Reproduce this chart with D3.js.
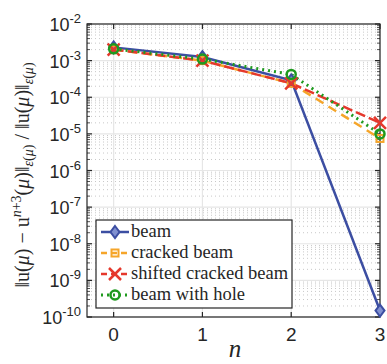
<!DOCTYPE html>
<html><head><meta charset="utf-8">
<script src="https://cdn.jsdelivr.net/npm/d3@7"></script>
<style>body{margin:0;background:#fff}</style>
</head><body>
<svg id="c" width="387" height="364"></svg>
<script>
const nValues = [0, 1, 2, 3];
const beam = [2.3e-3, 1.25e-3, 2.9e-4, 1.5e-10];
const crackedBeam = [2.0e-3, 1.0e-3, 2.4e-4, 7.5e-6];
const shiftedCrackedBeam = [2.0e-3, 1.0e-3, 2.4e-4, 2.0e-5];
const beamWithHole = [2.1e-3, 1.1e-3, 4.2e-4, 1.0e-5];
const seriesNames = ["beam", "cracked beam", "shifted cracked beam", "beam with hole"];
const yTickExps = [-2, -3, -4, -5, -6, -7, -8, -9, -10];
const xTicks = [0, 1, 2, 3];

const series = [
  {name: seriesNames[0], vals: beam, color: "#3c4ea2", dash: null, marker: "diamond"},
  {name: seriesNames[1], vals: crackedBeam, color: "#f5a52a", dash: "9,6", marker: "square"},
  {name: seriesNames[2], vals: shiftedCrackedBeam, color: "#e5382c", dash: "10,4", marker: "x"},
  {name: seriesNames[3], vals: beamWithHole, color: "#1f9a1f", dash: "2,4", marker: "circle"}
];

const svg = d3.select("#c");
const L = 87, R = 380, T = 24, B = 317;
const x = d3.scaleLinear().domain([-0.3, 3]).range([L, R]);
const y = d3.scaleLog().domain([1e-10, 1e-2]).range([B, T]);

// grid
const g = svg.append("g");
const minor = [];
for (let e = -10; e < -2; e++) for (let k = 2; k <= 9; k++) minor.push(k * Math.pow(10, e));
g.selectAll(".mg").data(minor).enter().append("line")
  .attr("x1", L).attr("x2", R).attr("y1", d => y(d)).attr("y2", d => y(d))
  .attr("stroke", "#c8c8c8").attr("stroke-width", 1).attr("stroke-dasharray", "1,3");
g.selectAll(".Mg").data(yTickExps).enter().append("line")
  .attr("x1", L).attr("x2", R).attr("y1", d => y(Math.pow(10, d))).attr("y2", d => y(Math.pow(10, d)))
  .attr("stroke", "#e6e6e6").attr("stroke-width", 1.2);
g.selectAll(".Xg").data(xTicks).enter().append("line")
  .attr("y1", T).attr("y2", B).attr("x1", d => x(d)).attr("x2", d => x(d))
  .attr("stroke", "#e6e6e6").attr("stroke-width", 1.2);

// axes box
const ax = svg.append("g").attr("stroke", "#262626").attr("stroke-width", 1.2);
ax.append("rect").attr("x", L).attr("y", T).attr("width", R - L).attr("height", B - T).attr("fill", "none");
yTickExps.forEach(e => {
  const yy = y(Math.pow(10, e));
  ax.append("line").attr("x1", L).attr("x2", L + 5).attr("y1", yy).attr("y2", yy);
  ax.append("line").attr("x1", R).attr("x2", R - 5).attr("y1", yy).attr("y2", yy);
});
minor.forEach(v => {
  const yy = y(v);
  ax.append("line").attr("x1", L).attr("x2", L + 3).attr("y1", yy).attr("y2", yy).attr("stroke-width", 0.8);
  ax.append("line").attr("x1", R).attr("x2", R - 3).attr("y1", yy).attr("y2", yy).attr("stroke-width", 0.8);
});
xTicks.forEach(t => {
  const xx = x(t);
  ax.append("line").attr("x1", xx).attr("x2", xx).attr("y1", B).attr("y2", B - 5);
  ax.append("line").attr("x1", xx).attr("x2", xx).attr("y1", T).attr("y2", T + 5);
});

// tick labels
const sans = '"Liberation Sans"';
yTickExps.forEach(e => {
  const t = svg.append("text").attr("x", 81).attr("y", y(Math.pow(10, e)) + 7)
    .attr("text-anchor", "end").style("font-family", sans).attr("font-size", 18).attr("fill", "#262626");
  t.append("tspan").text("10");
  t.append("tspan").attr("dy", -8).attr("font-size", 13).text("-" + (-e));
});
xTicks.forEach(v => {
  svg.append("text").attr("x", x(v)).attr("y", 341).attr("text-anchor", "middle")
    .style("font-family", sans).attr("font-size", 19).attr("fill", "#262626").text(v);
});

// axis labels
const serif = '"Liberation Serif"';
svg.append("text").attr("x", 235).attr("y", 357).attr("text-anchor", "middle")
  .style("font-family", serif).style("font-style", "italic").style("font-size", "25px").attr("fill", "#262626").text("n");
const yl = svg.append("text").attr("transform", "translate(29,175) rotate(-90)")
  .attr("text-anchor", "middle").style("font-family", serif).style("font-size", "20px").attr("fill", "#262626");
function ts(txt, opt) {
  const t = yl.append("tspan").text(txt).style("font-family", serif);
  if (opt && opt.it) t.style("font-style", "italic");
  if (opt && opt.small) t.style("font-size", "14px");
  if (opt && opt.dy) t.attr("dy", opt.dy);
  return t;
}
ts("‖u("); ts("μ", {it: 1}); ts(") − u");
ts("n", {it: 1, small: 1, dy: -8}); ts("+3", {small: 1});
ts("(", {dy: 8}); ts("μ", {it: 1}); ts(")‖");
ts("ε", {it: 1, small: 1, dy: 4}); ts("(", {small: 1}); ts("μ", {it: 1, small: 1}); ts(")", {small: 1});
ts(" / ‖u(", {dy: -4}); ts("μ", {it: 1}); ts(")‖");
ts("ε", {it: 1, small: 1, dy: 4}); ts("(", {small: 1}); ts("μ", {it: 1, small: 1}); ts(")", {small: 1});

// markers
function drawMarker(sel, type, cx, cy, color) {
  if (type === "diamond") {
    sel.append("path").attr("d", `M${cx},${cy-6}L${cx+4.5},${cy}L${cx},${cy+6}L${cx-4.5},${cy}Z`)
      .attr("fill", "#8090d0").attr("stroke", color).attr("stroke-width", 2);
  } else if (type === "square") {
    sel.append("rect").attr("x", cx - 3.5).attr("y", cy - 3.5).attr("width", 7).attr("height", 7)
      .attr("fill", "none").attr("stroke", color).attr("stroke-width", 2);
  } else if (type === "x") {
    sel.append("path").attr("d", `M${cx-6},${cy-6}L${cx+6},${cy+6}M${cx-6},${cy+6}L${cx+6},${cy-6}`)
      .attr("stroke", color).attr("stroke-width", 2.5).attr("fill", "none");
  } else {
    sel.append("circle").attr("cx", cx).attr("cy", cy).attr("r", 4.5)
      .attr("fill", "none").attr("stroke", color).attr("stroke-width", 2.5);
  }
}

const line = d3.line().x((d, i) => x(nValues[i])).y(d => y(d));
const plot = svg.append("g");
series.forEach(s => {
  plot.append("path").attr("d", line(s.vals)).attr("fill", "none").attr("stroke", s.color)
    .attr("stroke-width", s.marker === "circle" ? 3 : 2.5).attr("stroke-dasharray", s.dash);
});
series.forEach(s => {
  s.vals.forEach((v, i) => drawMarker(plot, s.marker, x(nValues[i]), y(v), s.color));
});

// legend
const lg = svg.append("g");
lg.append("rect").attr("x", 96).attr("y", 220).attr("width", 196).attr("height", 88)
  .attr("fill", "#fff").attr("stroke", "#262626").attr("stroke-width", 1.2);
const rowY = [232, 253, 274, 295];
series.forEach((s, i) => {
  const yy = rowY[i];
  lg.append("line").attr("x1", 101).attr("x2", 129).attr("y1", yy).attr("y2", yy)
    .attr("stroke", s.color).attr("stroke-width", s.marker === "circle" ? 3 : 2.5)
    .attr("stroke-dasharray", s.dash ? (s.marker === "circle" ? "2,4" : "6,4") : null);
  drawMarker(lg, s.marker, 115, yy, s.color);
  lg.append("text").attr("x", 131).attr("y", yy + 5).style("font-family", serif).style("font-size", "18.5px")
    .attr("fill", "#262626").text(s.name);
});
</script>
</body></html>
